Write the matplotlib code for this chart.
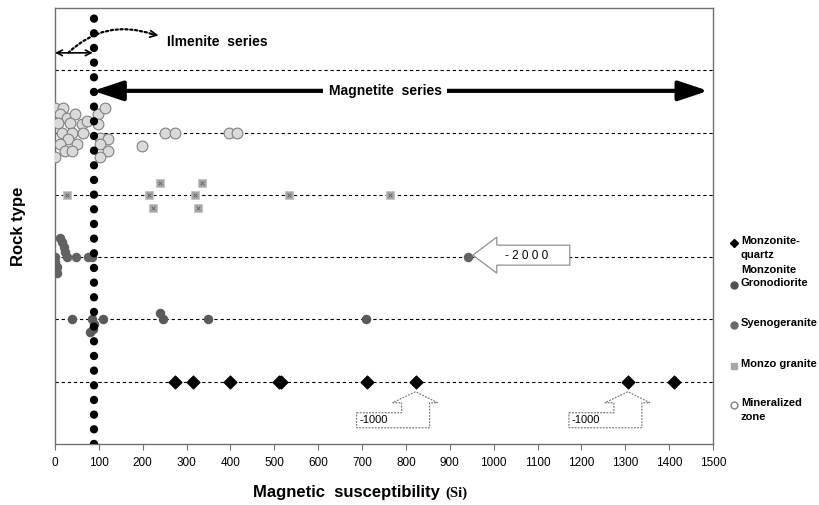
import numpy as np
import matplotlib.pyplot as plt
from matplotlib.patches import Polygon
from matplotlib.lines import Line2D
from matplotlib import transforms

plt.rcParams['font.family'] = ['Liberation Sans', 'DejaVu Sans']

# rock types, bottom (1) to top (5)
rock_types = ['Monzonite-\nquartz\nMonzonite', 'Gronodiorite', 'Syenogeranite',
              'Monzo granite', 'Mineralized\nzone']
x_ticks = np.arange(0, 1600, 100)

# magnetic susceptibility values
monz_x = [274, 315, 400, 510, 515, 712, 822, 1306, 1411]
monz_y = [1, 1, 1, 1, 1, 1, 1, 1, 1]

grano_x = [39, 84, 88, 86, 80, 110, 240, 247, 349, 710]
grano_y = [2, 2, 1.92, 1.84, 1.8, 2, 2.11, 2, 2, 2]

syeno_x = [11, 16, 21, 23, 27, 0, 0, 5, 5, 48, 75, 84, 941]
syeno_y = [3.31, 3.24, 3.16, 3.08, 3, 3, 2.92, 2.84, 2.75, 3, 3, 3, 3]

monzo_x = [27, 215, 240, 224, 320, 336, 326, 534, 763]
monzo_y = [4, 4, 4.19, 3.79, 4, 4.19, 3.79, 4, 4]

mineral_x = [0, 18, 11, 27, 46, 7, 34, 62, 73, 98, 114, 98, 16, 39, 64, 30, 11,
             50, 23, 39, 0, 103, 121, 103, 121, 103, 199, 251, 274, 397, 416]
mineral_y = [5.40, 5.40, 5.30, 5.24, 5.30, 5.16, 5.16, 5.14, 5.19, 5.30, 5.40,
             5.14, 5.0, 5.0, 5.0, 4.90, 4.82, 4.82, 4.71, 4.71, 4.60, 4.92,
             4.90, 4.82, 4.71, 4.60, 4.79, 5.0, 5.0, 5.0, 5.0]

# points that are off scale and get a callout
callout_1000 = [822, 1306]
callout_2000 = 941

fig = plt.figure(figsize=(8.2, 5.05), dpi=100)
ax = fig.add_axes([55 / 820, 1 - 444 / 505, 658 / 820, 436 / 505])

ax.set_xlim(0, 1500)
ax.set_ylim(0, 7)
ax.set_xticks(x_ticks)
ax.set_yticks([])
ax.tick_params(axis='x', direction='out', length=4, color='#707070',
               labelsize=8.5, pad=5)
for s in ax.spines.values():
    s.set_color('#707070')
    s.set_linewidth(1)

for lev in range(1, 7):
    ax.axhline(lev, color='k', lw=0.8, ls=(0, (3, 2.5)), zorder=1)

ax.axvline(89, color='k', lw=6, ls=(0, (0.01, 1.75)), dash_capstyle='round',
           zorder=5)

ax.scatter(mineral_x, mineral_y, s=60, facecolor='#dadada', edgecolor='#808080',
           lw=0.8, zorder=3)
ax.scatter(monzo_x, monzo_y, s=30, marker='s', facecolor='#a8a8a8',
           edgecolor='#c4c4c4', lw=0.6, zorder=3)
ax.scatter(monzo_x, monzo_y, s=7, marker='x', color='#606060', lw=0.6, zorder=4)
ax.scatter(syeno_x, syeno_y, s=34, color='#626262', zorder=3)
ax.scatter(grano_x, grano_y, s=34, color='#5a5a5a', zorder=3)
ax.scatter(monz_x, monz_y, s=42, marker='D', color='black', zorder=6)

# magnetite / ilmenite arrows
ax.annotate('', xy=(1489, 5.67), xytext=(87, 5.67),
            arrowprops=dict(arrowstyle='<|-|>,head_length=0.9,head_width=0.3',
                            lw=3, color='black', mutation_scale=20,
                            shrinkA=0, shrinkB=0), zorder=6)
ax.text(753, 5.67, 'Magnetite  series', ha='center', va='center', fontsize=10,
        fontweight='bold', zorder=7,
        bbox=dict(boxstyle='square,pad=0.4', fc='white', ec='none'))

ax.annotate('', xy=(86, 6.28), xytext=(0, 6.28),
            arrowprops=dict(arrowstyle='<->', lw=1.2, color='black',
                            mutation_scale=10, shrinkA=0, shrinkB=0))
ax.annotate('', xy=(222, 6.58), xytext=(30, 6.28),
            arrowprops=dict(arrowstyle='-', lw=1.6, ls=(0, (1, 1.2)),
                            color='black', shrinkA=0, shrinkB=0,
                            connectionstyle='arc3,rad=-0.3'))
ax.annotate('', xy=(236, 6.56), xytext=(220, 6.58),
            arrowprops=dict(arrowstyle='->', lw=1.2, color='black',
                            mutation_scale=12, shrinkA=0, shrinkB=0))
ax.text(255, 6.46, 'Ilmenite  series', ha='left', va='center', fontsize=10,
        fontweight='bold')


def pix_trans(x, y):
    # offsets in pixels (y down) around a data point
    return transforms.Affine2D().scale(1, -1) + \
        transforms.ScaledTranslation(x, y, ax.transData)


up_shape = [(-59, 31), (-14, 31), (-14, 21), (-23, 21), (0, 10), (22, 21),
            (14, 21), (14, 46), (-59, 46)]
for xv in callout_1000:
    tr = pix_trans(xv, 1)
    ax.add_patch(Polygon(up_shape, closed=True, transform=tr, fc='white',
                         ec='#808080', lw=0.9, ls=(0, (1.5, 1)), zorder=4,
                         clip_on=False))
    ax.text(-56, 38.5, '-1000', transform=tr, ha='left', va='center',
            fontsize=8, zorder=5)

left_shape = [(5, -2), (29, -20), (29, -12), (102, -12), (102, 8), (29, 8),
              (29, 16)]
tr = pix_trans(callout_2000, 3)
ax.add_patch(Polygon(left_shape, closed=True, transform=tr, fc='white',
                     ec='#909090', lw=0.9, zorder=4))
ax.text(37, -1.5, '- 2 0 0 0', transform=tr, ha='left', va='center',
        fontsize=8.5, zorder=5)

# axis labels
fig.text(19 / 820, 1 - 226 / 505, 'Rock type', rotation=90, ha='center',
         va='center', fontsize=12, fontweight='bold')
t1 = fig.text(253 / 820, 1 - 493 / 505, 'Magnetic  susceptibility',
              ha='left', va='center', fontsize=12, fontweight='bold')
ax.annotate('(Si)', xy=(1, 0.5), xycoords=t1, xytext=(4, 0),
            textcoords='offset points', ha='left', va='center', fontsize=10.5,
            fontweight='bold', family=['Liberation Serif', 'DejaVu Serif'],
            annotation_clip=False)

# legend at the right
leg_marks = [dict(marker='D', ms=4, color='black'),
             dict(marker='o', ms=5, color='#505050'),
             dict(marker='o', ms=5, color='#6a6a6a'),
             dict(marker='s', ms=5, color='#a8a8a8'),
             dict(marker='o', ms=5, mfc='white', mec='#808080')]
leg_y = [243, 285, 325, 366, 405]
for lab, mk, py in zip(rock_types, leg_marks, leg_y):
    yf = 1 - py / 505
    fig.add_artist(Line2D([734 / 820], [yf], transform=fig.transFigure,
                          ls='none', **mk))
    fig.text(741 / 820, yf + 7 / 505, lab, ha='left', va='top', fontsize=8,
             fontweight='bold', linespacing=1.55)

fig.savefig('out.png', dpi=100)
